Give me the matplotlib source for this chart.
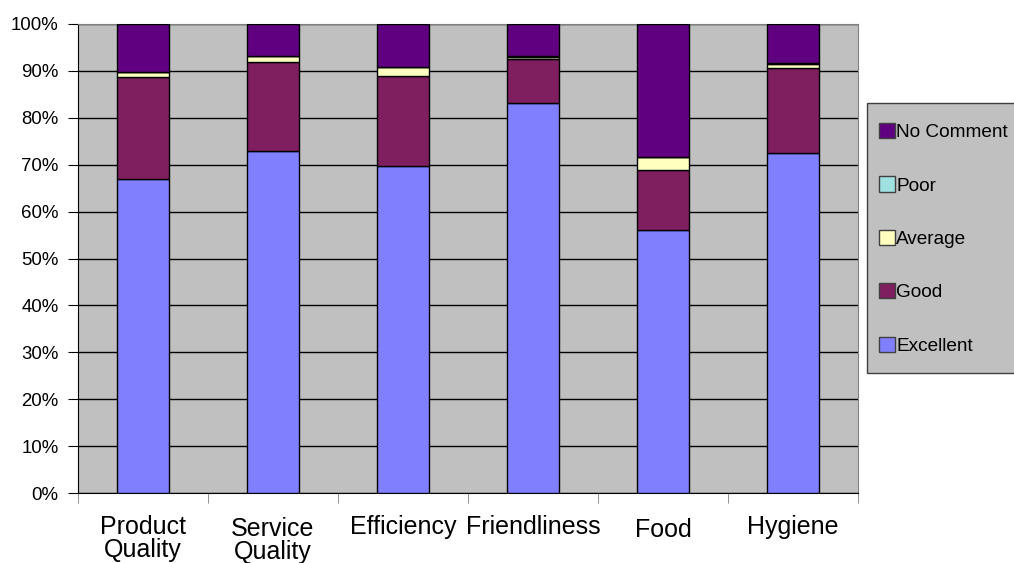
import matplotlib
matplotlib.use("Agg")
import matplotlib.pyplot as plt
import numpy as np
from matplotlib.transforms import ScaledTranslation
from matplotlib.patches import Patch, Rectangle

plt.rcParams['font.family'] = ['Liberation Sans', 'DejaVu Sans']

categories = ["Product\nQuality", "Service\nQuality", "Efficiency", "Friendliness", "Food", "Hygiene"]
excellent = [67.0, 72.9, 69.7, 83.1, 56.1, 72.4]
good = [21.7, 18.9, 19.2, 9.4, 12.8, 18.3]
average = [1.1, 1.4, 1.9, 0.4, 2.7, 0.8]
poor = [0.0, 0.0, 0.0, 0.3, 0.0, 0.1]
no_comment = [10.2, 6.8, 9.2, 6.8, 28.4, 8.4]

series = [
    ("Excellent", excellent, "#8080FF"),
    ("Good", good, "#7F1F5F"),
    ("Average", average, "#FFFFC0"),
    ("Poor", poor, "#A0E0E0"),
    ("No Comment", no_comment, "#600080"),
]

W, H = 1014, 563
fig = plt.figure(figsize=(W / 100, H / 100), dpi=100)
ax = fig.add_axes([78 / W, 70 / H, 780 / W, 469 / H])
ax.set_facecolor("#C0C0C0")

x = np.arange(len(categories))
bottom = np.zeros(len(categories))
for name, vals, color in series:
    vals = np.array(vals)
    ax.bar(x, vals, width=0.4, bottom=bottom, color=color,
           edgecolor="black", linewidth=1.0, zorder=3)
    bottom += vals

ax.set_xlim(-0.5, len(categories) - 0.5)
ax.set_ylim(0, 100)
ax.set_yticks(np.arange(0, 101, 10))
ax.set_yticklabels([f"{v}%" for v in range(0, 101, 10)], fontsize=13.4)
ax.yaxis.grid(True, color="black", linewidth=1.0, zorder=1)
ax.set_axisbelow(True)

ax.set_xticks(x)
ax.set_xticklabels(categories, fontsize=18, linespacing=0.95, va="top")
ax.set_xticks(np.arange(-0.5, len(categories), 1), minor=True)
ax.tick_params(axis="x", which="major", length=0, pad=16)
ax.tick_params(axis="x", which="minor", length=7, direction="out", color="#808080")
ax.tick_params(axis="y", length=7, direction="out", pad=7)

# small vertical nudges for individual category labels
nudges = [0, 2, 0, 0, 3, 0]
for lab, dy in zip(ax.get_xticklabels(), nudges):
    lab.set_transform(lab.get_transform() + ScaledTranslation(0, -dy / 100, fig.dpi_scale_trans))

for side in ("top", "right"):
    ax.spines[side].set_color("#808080")
ax.spines["left"].set_color("black")
ax.spines["bottom"].set_color("black")

# legend panel
fig.add_artist(Rectangle((867 / W, 1 - 373 / H), (W + 10 - 867) / W, (373 - 103) / H,
                         transform=fig.transFigure, facecolor="#C0C0C0",
                         edgecolor="#404040", linewidth=1.0, zorder=1))
handles = [Patch(facecolor=c, edgecolor="#404040", linewidth=1.0, label=n)
           for n, _, c in reversed(series)]
leg = fig.legend(handles=handles, loc="upper left",
                 bbox_to_anchor=(879 / W, 1 - 123 / H),
                 fontsize=13.7, frameon=False,
                 handlelength=0.85, handleheight=0.85, handletextpad=0.05,
                 labelspacing=1.85, borderpad=0, borderaxespad=0)
leg.set_zorder(2)

fig.savefig("out.png", dpi=100, facecolor="white")
